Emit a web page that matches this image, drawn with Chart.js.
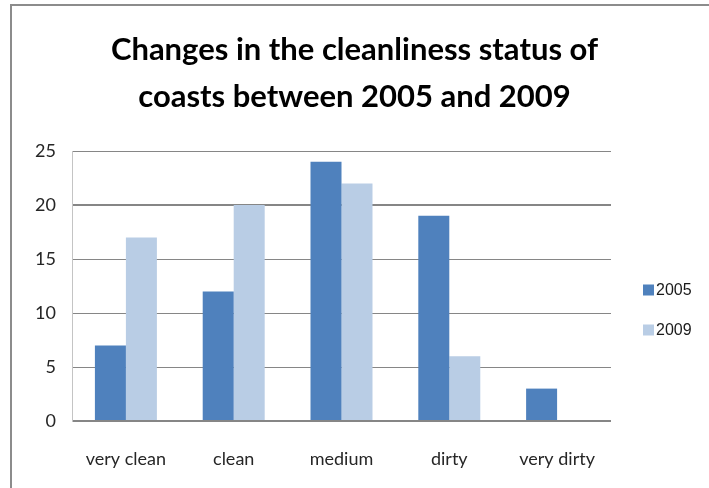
<!DOCTYPE html>
<html>
<head>
<meta charset="utf-8">
<title>Coast cleanliness 2005 vs 2009</title>
<script src="https://cdn.jsdelivr.net/npm/chart.js@4.4.1/dist/chart.umd.min.js"></script>
<style>
    html, body { margin: 0; padding: 0; background: #fff; }
    #wrap { position: relative; width: 709px; height: 488px; overflow: hidden; }
    #frame {
        position: absolute; left: 10px; top: 4px; width: 800px; height: 600px;
        border-left: 2px solid #8c8c8c; border-top: 2px solid #8c8c8c;
        pointer-events: none;
    }
</style>
</head>
<body>
<div id="wrap">
    <canvas id="chart"></canvas>
    <div id="frame"></div>
</div>
<script>
// Chart data
const categories = ['very clean', 'clean', 'medium', 'dirty', 'very dirty'];
const seriesNames = ['2005', '2009'];
const values2005 = [7, 12, 24, 19, 3];
const values2009 = [17, 20, 22, 6, 0];
const yTicks = [0, 5, 10, 15, 20, 25];
const titleLines = ['Changes in the cleanliness status of', 'coasts between 2005 and 2009'];

const colors = ['#4f81bd', '#b9cde5'];

// Legend drawn beside the plot, Excel style
const sideLegend = {
    id: 'sideLegend',
    afterDraw(chart) {
        const ctx = chart.ctx;
        ctx.save();
        ctx.font = '16px "Liberation Sans", Arial, sans-serif';
        ctx.textBaseline = 'middle';
        ctx.textAlign = 'left';
        chart.data.datasets.forEach((ds, i) => {
            const cy = 290 + i * 40;
            ctx.fillStyle = ds.backgroundColor;
            ctx.fillRect(643, cy - 5.5, 11, 11);
            ctx.fillStyle = '#1a1a1a';
            ctx.fillText(ds.label, 656, cy + 1);
        });
        ctx.restore();
    }
};

const ctx = document.getElementById('chart').getContext('2d');
new Chart(ctx, {
    type: 'bar',
    data: {
        labels: categories,
        datasets: [
            { label: seriesNames[0], data: values2005, backgroundColor: colors[0] },
            { label: seriesNames[1], data: values2009, backgroundColor: colors[1] }
        ]
    },
    options: {
        responsive: true,
        maintainAspectRatio: false,
        animation: false,
        layout: { padding: 0 },
        datasets: {
            bar: { categoryPercentage: 0.575, barPercentage: 1.0 }
        },
        scales: {
            x: {
                grid: { display: false, drawTicks: false },
                border: { display: false },
                ticks: {
                    color: '#262626',
                    font: { family: 'Lato, sans-serif', size: 18 },
                    padding: 27,
                    maxRotation: 0
                },
                afterFit: (s) => { s.height = 67; }
            },
            y: {
                min: 0,
                max: 25,
                afterBuildTicks: (s) => { s.ticks = yTicks.map(v => ({ value: v })); },
                grid: {
                    color: '#868686',
                    lineWidth: (c) => (c.tick && (c.tick.value === 0 || c.tick.value === 20)) ? 2 : 1,
                    drawTicks: false
                },
                border: { display: true, color: '#c4c4c4', width: 1 },
                ticks: {
                    color: '#262626',
                    font: { family: 'Lato, sans-serif', size: 18 },
                    padding: 16
                },
                afterFit: (s) => { s.width = 72; }
            },
            // empty right-hand axis that keeps room for the legend
            legendSpace: {
                type: 'linear',
                position: 'right',
                grid: { display: false, drawTicks: false },
                border: { display: false },
                ticks: { display: false },
                afterFit: (s) => { s.width = 98; }
            }
        },
        plugins: {
            legend: { display: false },
            tooltip: { enabled: false },
            title: {
                display: true,
                text: titleLines,
                color: '#000',
                font: { family: 'Lato, sans-serif', size: 31, weight: 'bold', lineHeight: 47 / 31 },
                padding: { top: 26, bottom: 31 }
            }
        }
    },
    plugins: [sideLegend]
});
</script>
</body>
</html>
